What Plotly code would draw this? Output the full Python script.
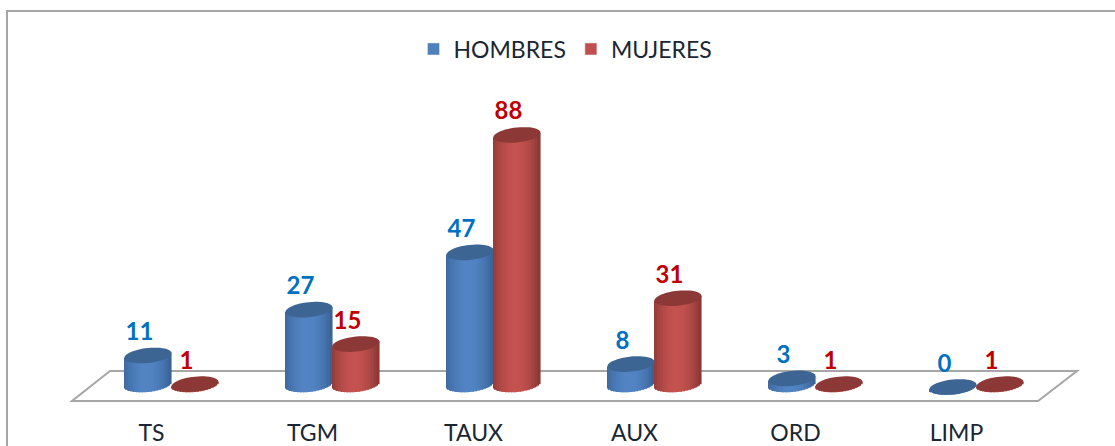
import math
import plotly.graph_objects as go

categories = ["TS", "TGM", "TAUX", "AUX", "ORD", "LIMP"]
hombres = [11, 27, 47, 8, 3, 0]
mujeres = [1, 15, 88, 31, 1, 1]

W, H = 1115, 446
BOTTOM = 417            # pixel row of the plot-area bottom
PX_X = 161.0            # pixels per category
PX_Y = 2.864            # pixels per unit
X0, Y0 = 171.5, 387.0   # pixel of group 0 / value 0
HALF = 0.146            # half cylinder width in category units
B = 7.5 / PX_Y          # ellipse half height in value units
TILT = 2.3 / PX_Y       # ellipse tilt in value units
FOOT = 2.5 / PX_Y       # centre of the cylinder's foot ellipse
N = 31
LABEL_DX = -8.5 / PX_X
LABEL_DY = 21.5 / PX_Y
TICK_DX = -20.0 / PX_X


def shade(dark, mid, u):
    t = max(0.0, 1 - abs(u + 0.05) ** 2.0)
    return "rgb(%d,%d,%d)" % tuple(round(d + (m - d) * t) for d, m in zip(dark, mid))


def px_x(p):
    return p / W


def px_y(p):
    return (BOTTOM - p) / BOTTOM


def cylinder(values, side, dark, mid, top):
    xs, ys, bases, cols = [], [], [], []
    shapes = []
    for i, v in enumerate(values):
        cx = i + side * HALF
        for k in range(N):
            u = -1 + (2 * k + 1) / N
            low = min(v, FOOT) - B * math.sqrt(1 - u * u) + TILT * u
            xs.append(cx + u * HALF)
            ys.append(v + TILT * u - low)
            bases.append(low)
            cols.append(shade(dark, mid, u))
        pts = []
        for a in range(48):
            t = 2 * math.pi * a / 48
            pts.append((cx + HALF * math.cos(t), v + TILT * math.cos(t) + B * math.sin(t)))
        path = "M " + " L ".join("%.4f %.4f" % p for p in pts) + " Z"
        shapes.append(dict(type="path", xref="x", yref="y", path=path,
                           fillcolor=top, line=dict(width=0), layer="above"))
    bar = go.Bar(x=xs, y=ys, base=bases, width=2 * HALF / N * 1.08,
                 marker=dict(color=cols, line=dict(width=0)),
                 showlegend=False, hoverinfo="skip")
    return bar, shapes


b_bar, b_shapes = cylinder(hombres, -1, (58, 100, 152), (82, 132, 196), "#3c6594")
m_bar, m_shapes = cylinder(mujeres, 1, (140, 56, 54), (196, 82, 79), "#8c3836")

fig = go.Figure()
fig.add_trace(b_bar)
fig.add_trace(m_bar)
fig.add_trace(go.Bar(x=[None], y=[None], name="HOMBRES", marker_color="#4f81bd"))
fig.add_trace(go.Bar(x=[None], y=[None], name="MUJERES", marker_color="#c0504d"))

idx = list(range(len(categories)))
fig.add_trace(go.Scatter(
    x=[i - HALF + LABEL_DX for i in idx], y=[v + LABEL_DY for v in hombres],
    text=[str(v) for v in hombres], mode="text", textposition="middle center",
    textfont=dict(family="Lato", size=24, color="#0070c0", weight="bold"),
    showlegend=False, hoverinfo="skip"))
fig.add_trace(go.Scatter(
    x=[i + HALF + LABEL_DX for i in idx], y=[v + LABEL_DY for v in mujeres],
    text=[str(v) for v in mujeres], mode="text", textposition="middle center",
    textfont=dict(family="Lato", size=24, color="#c00000", weight="bold"),
    showlegend=False, hoverinfo="skip"))

floor = "M %f %f L %f %f L %f %f L %f %f Z" % (
    px_x(72), px_y(401), px_x(1038), px_y(401), px_x(1077), px_y(371), px_x(110), px_y(371))
frame = "M %f %f L %f %f L %f %f" % (
    px_x(7), px_y(447), px_x(7), px_y(11), px_x(1116), px_y(11))

shapes = [
    dict(type="path", xref="paper", yref="paper", path=frame,
         line=dict(color="#a6a6a6", width=2), layer="below"),
    dict(type="path", xref="paper", yref="paper", path=floor,
         line=dict(color="#a6a6a6", width=2), fillcolor="white", layer="below"),
] + b_shapes + m_shapes

fig.update_layout(
    width=W, height=H,
    margin=dict(l=0, r=0, t=0, b=H - BOTTOM, pad=0),
    paper_bgcolor="white", plot_bgcolor="rgba(0,0,0,0)",
    barmode="overlay", shapes=shapes,
    font=dict(family="Lato", size=23, color="#1a2633"),
    xaxis=dict(range=[-X0 / PX_X, (W - X0) / PX_X], tickmode="array",
               tickvals=[i + TICK_DX for i in idx], ticktext=categories,
               showgrid=False, zeroline=False, showline=False, ticks=""),
    yaxis=dict(range=[(Y0 - BOTTOM) / PX_Y, Y0 / PX_Y], visible=False),
    legend=dict(orientation="h", x=0.5 + 8 / W, xanchor="center", y=1 - 49 / BOTTOM, yanchor="middle",
                font=dict(size=23), bgcolor="rgba(0,0,0,0)", itemwidth=30),
)

fig.write_html("out.html", config=dict(displayModeBar=False),
               post_script="document.body.style.margin='0';")
